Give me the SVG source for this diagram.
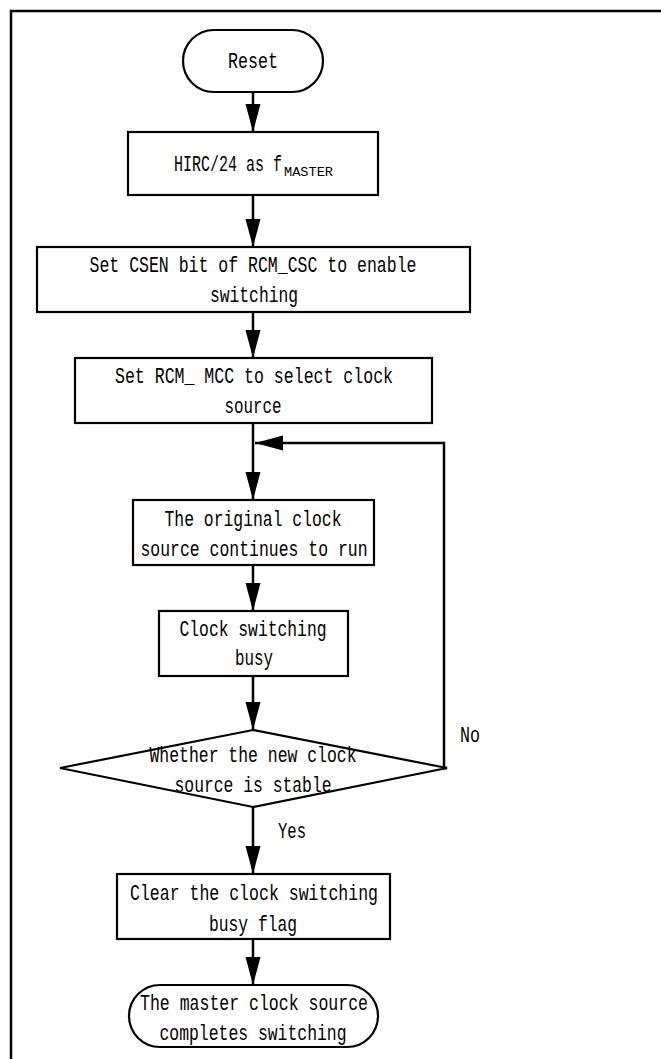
<svg xmlns="http://www.w3.org/2000/svg" width="661" height="1059" viewBox="0 0 661 1059">
<style>
.s{fill:#fff;stroke:#000;stroke-width:2.2}
.c{fill:none;stroke:#000;stroke-width:2.5}
text{font-family:"Liberation Mono",monospace;font-size:22px;fill:#000;text-anchor:middle}
.l{text-anchor:start}
</style>
<defs>
<marker id="a" markerUnits="userSpaceOnUse" markerWidth="30" markerHeight="16" refX="28" refY="7.5" orient="auto">
<path d="M0,0 L28,7.5 L0,15 z" fill="#000"/>
</marker>
</defs>
<rect x="0" y="0" width="661" height="1059" fill="#fff"/>
<rect x="11" y="11" width="700" height="1100" fill="none" stroke="#000" stroke-width="2.5"/>
<g id="connectors">
<line class="c" x1="253" y1="92" x2="253" y2="132" marker-end="url(#a)"/>
<line class="c" x1="253" y1="195" x2="253" y2="247" marker-end="url(#a)"/>
<line class="c" x1="253" y1="312" x2="253" y2="358" marker-end="url(#a)"/>
<line class="c" x1="253" y1="423" x2="253" y2="500" marker-end="url(#a)"/>
<line class="c" x1="253" y1="565" x2="253" y2="611" marker-end="url(#a)"/>
<line class="c" x1="253" y1="676" x2="253" y2="730" marker-end="url(#a)"/>
<line class="c" x1="253" y1="807" x2="253" y2="874" marker-end="url(#a)"/>
<line class="c" x1="253" y1="939" x2="253" y2="985" marker-end="url(#a)"/>
<polyline class="c" points="447,768 444,768 444,443 255,443" marker-end="url(#a)"/>
<text class="l" x="460" y="742" textLength="20" lengthAdjust="spacingAndGlyphs">No</text>
<text class="l" x="278" y="838" textLength="28" lengthAdjust="spacingAndGlyphs">Yes</text>
</g>
<g id="reset">
<rect class="s" x="183" y="30" width="140" height="62" rx="31"/>
<text x="253" y="68" textLength="50" lengthAdjust="spacingAndGlyphs">Reset</text>
</g>
<g id="hirc">
<rect class="s" x="128" y="132" width="250" height="63"/>
<text class="l" y="171"><tspan x="174" textLength="108" lengthAdjust="spacingAndGlyphs">HIRC/24 as f</tspan><tspan x="284" y="176" font-size="13" textLength="49" lengthAdjust="spacingAndGlyphs">MASTER</tspan></text>
</g>
<g id="csen">
<rect class="s" x="37" y="247" width="433" height="65"/>
<text x="253" y="272" textLength="327" lengthAdjust="spacingAndGlyphs">Set CSEN bit of RCM_CSC to enable</text>
<text x="254" y="302" textLength="88" lengthAdjust="spacingAndGlyphs">switching</text>
</g>
<g id="mcc">
<rect class="s" x="75" y="358" width="357" height="65"/>
<text x="254" y="383" textLength="278" lengthAdjust="spacingAndGlyphs">Set RCM_ MCC to select clock</text>
<text x="253" y="413" textLength="57" lengthAdjust="spacingAndGlyphs">source</text>
</g>
<g id="orig">
<rect class="s" x="133" y="500" width="241" height="65"/>
<text x="253" y="526" textLength="177" lengthAdjust="spacingAndGlyphs">The original clock</text>
<text x="254" y="556" textLength="227" lengthAdjust="spacingAndGlyphs">source continues to run</text>
</g>
<g id="busy">
<rect class="s" x="159" y="611" width="189" height="65"/>
<text x="253" y="636" textLength="147" lengthAdjust="spacingAndGlyphs">Clock switching</text>
<text x="254" y="665" textLength="38" lengthAdjust="spacingAndGlyphs">busy</text>
</g>
<g id="decision">
<polygon class="s" points="253,730 447,768 253,807 60,768"/>
<text x="253" y="762" textLength="207" lengthAdjust="spacingAndGlyphs">Whether the new clock</text>
<text x="253" y="792" textLength="157" lengthAdjust="spacingAndGlyphs">source is stable</text>
</g>
<g id="clear">
<rect class="s" x="117" y="874" width="273" height="65"/>
<text x="254" y="900" textLength="248" lengthAdjust="spacingAndGlyphs">Clear the clock switching</text>
<text x="253" y="931" textLength="88" lengthAdjust="spacingAndGlyphs">busy flag</text>
</g>
<g id="done">
<rect class="s" x="129" y="985" width="249" height="62" rx="31"/>
<text x="254" y="1010" textLength="228" lengthAdjust="spacingAndGlyphs">The master clock source</text>
<text x="253" y="1040" textLength="187" lengthAdjust="spacingAndGlyphs">completes switching</text>
</g>
</svg>
